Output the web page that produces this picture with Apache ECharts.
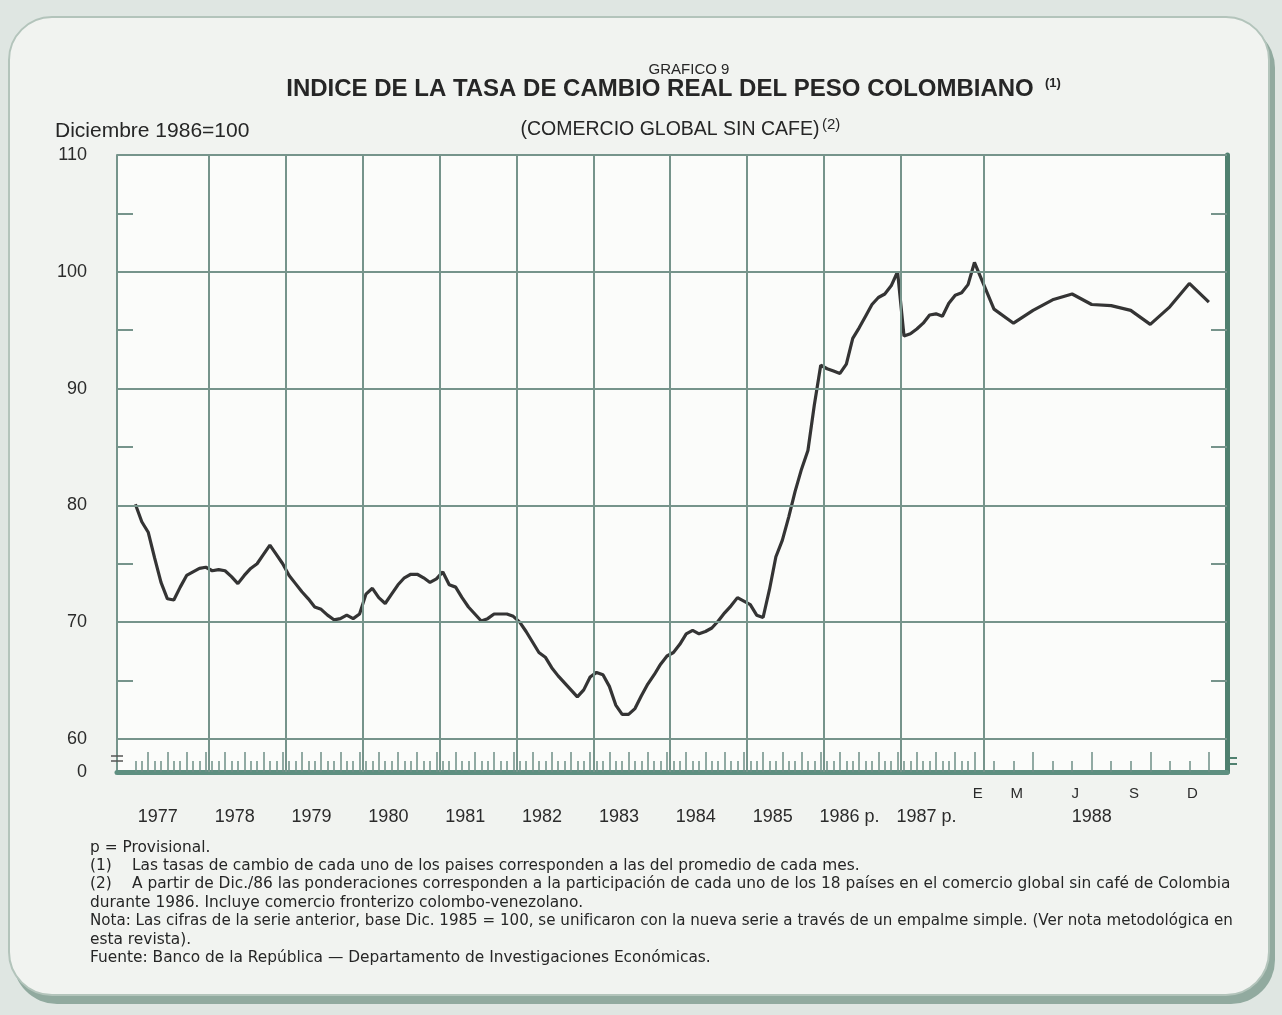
<!DOCTYPE html>
<html lang="es">
<head>
<meta charset="UTF-8">
<title>Grafico 9</title>
<script src="https://cdn.jsdelivr.net/npm/echarts@6/dist/echarts.min.js"></script>
<style>
    *{ margin:0; padding:0; }
    body{ width:1282px; height:1015px; background:#dfe6e2; overflow:hidden; position:relative; }
    /* tarjeta redondeada del grafico */
    .card{ position:absolute; left:8px; top:16px; width:1258px; height:976px; border-radius:44px;
           background:#f1f3f0; border:2px solid #b3c4bb; box-shadow:5px 8px 0 #91aa9f; }
    #chart{ position:absolute; left:0; top:0; width:1282px; height:1015px; }
</style>
</head>
<body>
<div class="card"></div>
<div id="chart"></div>
<script>
// indice mensual, diciembre 1986 = 100
var years = ['1977', '1978', '1979', '1980', '1981', '1982', '1983', '1984', '1985', '1986 p.', '1987 p.', '1988'];
var idx1977 = [80.1, 78.6, 77.7, 75.5, 73.4, 72.0, 71.9, 73.0, 74.0, 74.3, 74.6, 74.7];
var idx1978 = [74.4, 74.5, 74.4, 73.9, 73.3, 74.0, 74.6, 75.0, 75.8, 76.6, 75.8, 75.0];
var idx1979 = [74.0, 73.3, 72.6, 72.0, 71.3, 71.1, 70.6, 70.2, 70.3, 70.6, 70.3, 70.7];
var idx1980 = [72.4, 72.9, 72.1, 71.6, 72.4, 73.2, 73.8, 74.1, 74.1, 73.8, 73.4, 73.7];
var idx1981 = [74.3, 73.2, 73.0, 72.1, 71.3, 70.7, 70.1, 70.3, 70.7, 70.7, 70.7, 70.5];
var idx1982 = [70.0, 69.2, 68.3, 67.4, 67.0, 66.1, 65.4, 64.8, 64.2, 63.6, 64.2, 65.3];
var idx1983 = [65.7, 65.5, 64.5, 62.9, 62.1, 62.1, 62.6, 63.7, 64.7, 65.5, 66.4, 67.1];
var idx1984 = [67.4, 68.1, 69.0, 69.3, 69.0, 69.2, 69.5, 70.1, 70.8, 71.4, 72.1, 71.8];
var idx1985 = [71.5, 70.6, 70.4, 72.8, 75.6, 77.0, 79.0, 81.2, 83.1, 84.7, 88.6, 92.0];
var idx1986 = [91.7, 91.5, 91.3, 92.1, 94.3, 95.2, 96.2, 97.2, 97.8, 98.1, 98.8, 100.0];
var idx1987 = [94.5, 94.7, 95.1, 95.6, 96.3, 96.4, 96.2, 97.3, 98.0, 98.2, 98.9, 100.8];
var idx1988 = [96.8, 95.6, 96.7, 97.6, 98.1, 97.2, 97.1, 96.7, 95.5, 97.0, 99.0, 97.4];
var allYears = [idx1977, idx1978, idx1979, idx1980, idx1981, idx1982, idx1983, idx1984, idx1985, idx1986, idx1987, idx1988];

var monthLetters = ['E', 'M', 'J', 'S', 'D'];
var monthLetterIdx = [0, 2, 5, 8, 11];
var yLabels = [60, 70, 80, 90, 100, 110];
var yMinor = [65, 75, 85, 95, 105];

var WIDE = 3.05;          // en 1988 cada mes ocupa ~3 veces mas
var YMIN = 57.17;         // eje cortado: la franja inferior representa el "0"
var GRID = '#76948b';

// posicion en el eje x (meses) de cada dato
function xPos(y, m) {
    return y < 11 ? y * 12 + m + 1 : 132 + WIDE * (m + 1);
}

var lineData = [];
var monthTicks = [];
var quarterTicks = [];
allYears.forEach(function (vals, y) {
    vals.forEach(function (v, m) {
        var x = xPos(y, m);
        lineData.push([x, v]);
        if (m % 3 === 2) quarterTicks.push(x); else monthTicks.push(x);
    });
});

// lineas verticales entre diciembre y enero
var yearLines = [];
for (var y = 1; y < 11; y++) yearLines.push(y * 12 + 0.5);
yearLines.push((xPos(10, 11) + xPos(11, 0)) / 2);

// etiquetas de los anios y de los meses de 1988
var yearLabelPos = [];
var labelText = {};
years.forEach(function (t, y) {
    var p = y < 11 ? y * 12 + 4.5 : 132 + WIDE * 6;
    yearLabelPos.push(p);
    labelText[p.toFixed(3)] = t;
});
var monthLabelPos = [];
monthLetterIdx.forEach(function (m, k) {
    var p = 132 + WIDE * m + 0.5;
    monthLabelPos.push(p);
    labelText[p.toFixed(3)] = monthLetters[k];
});
function xLabel(v) { return labelText[v.toFixed(3)] || ''; }

var gridMarks = yearLines.map(function (v) { return { xAxis: v }; })
    .concat(yLabels.map(function (v) { return { yAxis: v }; }));

var FONT = '"Liberation Sans", Arial, sans-serif';
var NOTE = '15.4px "DejaVu Sans", sans-serif';

function txt(x, y, text, font, align) {
    return { type: 'text', x: x, y: y, silent: true,
        style: { text: text, font: font, fill: '#262626', textAlign: align || 'left', textVerticalAlign: 'middle' } };
}

// eje y auxiliar (solo marcas)
function yTicks(pos, inside, len, values, color, width) {
    return {
        type: 'value', min: YMIN, max: 110, position: pos,
        axisLine: { show: false, onZero: false },
        axisTick: { show: true, inside: inside, length: len, customValues: values, lineStyle: { color: color, width: width } },
        axisLabel: { show: false }, splitLine: { show: false }
    };
}

var options = {
    animation: false,
    grid: { left: 117, right: 55, top: 155, bottom: 243, show: true, backgroundColor: '#fbfcfa', borderWidth: 0 },
    xAxis: [
        {
            type: 'value', min: -1.87, max: 171.43,
            axisLine: { show: true, onZero: false, lineStyle: { color: '#5e8f80', width: 5 } },
            axisTick: { show: true, inside: true, length: 11, customValues: monthTicks, lineStyle: { color: '#6f8f86', width: 1.5 } },
            axisLabel: { customValues: yearLabelPos, formatter: xLabel, margin: 36, fontSize: 18, color: '#2b2b2b', fontFamily: FONT },
            splitLine: { show: false }
        },
        {
            type: 'value', min: -1.87, max: 171.43, position: 'bottom',
            axisLine: { show: false, onZero: false },
            axisTick: { show: true, inside: true, length: 20, customValues: quarterTicks, lineStyle: { color: '#6f8f86', width: 1.5 } },
            axisLabel: { customValues: monthLabelPos, formatter: xLabel, margin: 14, fontSize: 15, color: '#2b2b2b', fontFamily: FONT },
            splitLine: { show: false }
        }
    ],
    yAxis: [
        {
            type: 'value', min: YMIN, max: 110, position: 'left',
            axisLine: { show: true, onZero: false, lineStyle: { color: GRID, width: 2 } },
            axisTick: { show: true, length: 6, customValues: [58.1, 58.6], lineStyle: { color: '#555', width: 1.5 } },
            axisLabel: { customValues: [YMIN].concat(yLabels), margin: 30, fontSize: 18, color: '#2b2b2b', fontFamily: FONT,
                formatter: function (v) { return v < 59 ? '0' : String(v); } },
            splitLine: { show: false }
        },
        yTicks('left', true, 16, yMinor, GRID, 2),
        yTicks('left', true, 6, [58.1, 58.6], '#555', 1.5),
        {
            type: 'value', min: YMIN, max: 110, position: 'right',
            axisLine: { show: true, onZero: false, lineStyle: { color: '#4f806f', width: 5 } },
            axisTick: { show: true, inside: true, length: 16, customValues: yMinor, lineStyle: { color: GRID, width: 2 } },
            axisLabel: { show: false }, splitLine: { show: false }
        },
        yTicks('right', false, 10, [57.9, 58.4], '#4f806f', 2)
    ],
    series: [
        {
            type: 'line', data: [], z: 1, silent: true,
            markLine: { silent: true, symbol: ['none', 'none'], label: { show: false }, emphasis: { disabled: true },
                lineStyle: { color: GRID, width: 2, type: 'solid' }, data: gridMarks }
        },
        {
            type: 'line', data: lineData, z: 3, showSymbol: false, symbol: 'none', silent: true,
            lineStyle: { color: '#343434', width: 3.2 }
        }
    ],
    graphic: [
        txt(689, 70, 'GRAFICO 9', '15px ' + FONT, 'center'),
        txt(660, 89, 'INDICE DE LA TASA DE CAMBIO REAL DEL PESO COLOMBIANO', 'bold 24px ' + FONT, 'center'),
        txt(1045, 83, '(1)', 'bold 13px ' + FONT),
        txt(670, 130, '(COMERCIO GLOBAL SIN CAFE)', '19.5px ' + FONT, 'center'),
        txt(822, 125, '(2)', '15px ' + FONT),
        txt(55, 131, 'Diciembre 1986=100', '21px ' + FONT),
        txt(90, 848, 'p = Provisional.', NOTE),
        txt(90, 866, '(1)', NOTE),
        txt(132, 866, 'Las tasas de cambio de cada uno de los paises corresponden a las del promedio de cada mes.', NOTE),
        txt(90, 884, '(2)', NOTE),
        txt(132, 884, 'A partir de Dic./86 las ponderaciones corresponden a la participación de cada uno de los 18 países en el comercio global sin café de Colombia', NOTE),
        txt(90, 903, 'durante 1986. Incluye comercio fronterizo colombo-venezolano.', NOTE),
        txt(90, 921, 'Nota: Las cifras de la serie anterior, base Dic. 1985 = 100, se unificaron con la nueva serie a través de un empalme simple. (Ver nota metodológica en', '15.1px "DejaVu Sans", sans-serif'),
        txt(90, 940, 'esta revista).', NOTE),
        txt(90, 958, 'Fuente: Banco de la República — Departamento de Investigaciones Económicas.', NOTE)
    ]
};

var chart = echarts.init(document.getElementById('chart'));
chart.setOption(options);
</script>
</body>
</html>
